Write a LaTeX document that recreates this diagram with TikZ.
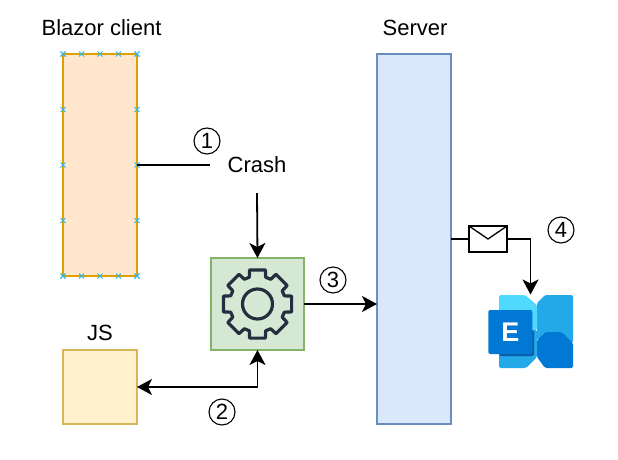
\documentclass[tikz,border=0pt]{standalone}
\usepackage{fontspec}
\setmainfont{Liberation Sans}
\usetikzlibrary{arrows.meta, positioning, calc}

\definecolor{blazorfill}{HTML}{FFE6CC}
\definecolor{blazorline}{HTML}{DFA000}
\definecolor{serverfill}{HTML}{DAE8FC}
\definecolor{serverline}{HTML}{6C8EBF}
\definecolor{gearfill}{HTML}{D5E8D4}
\definecolor{gearline}{HTML}{82B366}
\definecolor{jsfill}{HTML}{FFF2CC}
\definecolor{jsline}{HTML}{D6B656}
\definecolor{gearstroke}{HTML}{232F3E}
\definecolor{pinmark}{HTML}{29B6F2}

\begin{document}
\begin{tikzpicture}[
    x=1pt, y=-1pt,
    box/.style={rectangle, draw, line width=1.5pt, inner sep=0pt, outer sep=0pt},
    caption/.style={font=\fontsize{22}{26}\selectfont},
    step num/.style={circle, draw, line width=1.1pt, minimum size=26pt, inner sep=0pt, font=\fontsize{22}{24}\selectfont},
    tip/.tip={Stealth[length=15pt, width=16pt, inset=4pt]},
    arrow/.style={-tip, line width=1.8pt},
    wire/.style={line width=1.8pt},
    pin/.style={pinmark, line width=0.9pt}
]

    \useasboundingbox (0,0) rectangle (618,460);

    % Main Boxes
    \node[box, fill=blazorfill, draw=blazorline, minimum width=74pt, minimum height=222pt] (blazor) at (100,165) {};
    \node[box, fill=serverfill, draw=serverline, minimum width=74pt, minimum height=370pt] (server) at (414,239) {};
    \node[box, fill=gearfill, draw=gearline, minimum width=93pt, minimum height=92pt] (gearbox) at (257.5,304) {};
    \node[box, fill=jsfill, draw=jsline, minimum width=74pt, minimum height=74pt] (js) at (100,387) {};

    % Titles
    \node[caption] (blazortitle) at (101.5,28) {Blazor client};
    \node[caption] (servertitle) at (415,28) {Server};
    \node[caption] (jstitle) at (100,333) {JS};
    \node[caption, minimum width=94pt, minimum height=56pt, inner sep=0pt] (crash) at (257,165) {\raisebox{-2pt}{Crash}};

    % Connection points on the client box
    \foreach \t in {0,0.25,0.5,0.75,1} {
        \foreach \p/\q in {north west/north east, south west/south east, north west/south west, north east/south east} {
            \coordinate (pt) at ($(blazor.\p)!\t!(blazor.\q)$);
            \draw[pin] ($(pt)+(-2.5,-2.5)$) -- ($(pt)+(2.5,2.5)$);
            \draw[pin] ($(pt)+(-2.5,2.5)$) -- ($(pt)+(2.5,-2.5)$);
        }
    }

    % Gear icon
    \begin{scope}[shift={(gearbox.center)}, gearstroke, line width=3.2pt, line join=round]
        \draw (0,0) circle (15);
        \draw (90-13:35)
            \foreach \a in {90,135,180,225,270,315,360,405} {
                -- (\a-13:35) -- (\a+13:35) -- (\a+17:28) -- (\a+28:28)
            } -- cycle;
    \end{scope}

    % Mail envelope
    \node[box, fill=white, draw=black, minimum width=38pt, minimum height=26pt] (mail) at (488,239) {};
    \draw[line width=1.3pt] (mail.north west) -- ($(mail.north)+(0,13)$) -- (mail.north east);

    % Exchange logo
    \node[minimum width=85pt, minimum height=74pt, inner sep=0pt, outer sep=0pt] (exchange) at (530.5,331.5) {};
    \fill[rounded corners=1.5pt, fill={rgb,255:red,35;green,168;blue,232}]
        (545,295) -- (573,295) -- (573,343) -- (562,332) -- (545,332) -- (537,340) -- (537,303) -- cycle;
    \fill[rounded corners=1.5pt, fill={rgb,255:red,0;green,120;blue,212}]
        (545,332) -- (562,332) -- (573,343) -- (573,368) -- (545,368) -- (537,357) -- (537,340) -- cycle;
    \fill[rounded corners=1.5pt, fill={rgb,255:red,35;green,168;blue,232}]
        (499,330) -- (537,330) -- (537,357) -- (526,368) -- (499,368) -- cycle;
    \fill[rounded corners=1.5pt, fill={rgb,255:red,80;green,217;blue,255}]
        (499,295) -- (525,295) -- (537,305) -- (537,330) -- (499,330) -- cycle;
    \fill[rounded corners=2pt, fill={rgb,255:red,10;green,95;blue,168}] (499,330) rectangle (534,356);
    \node[rectangle, fill={rgb,255:red,0;green,120;blue,212}, rounded corners=2pt, minimum size=44pt, inner sep=0pt,
        text=white, font=\fontsize{27}{30}\selectfont\bfseries] (exchangeE) at (510.3,332) {E};

    % --- Connectors ---
    \draw[wire] (blazor.east) -- (crash.west);
    \draw[arrow] (crash.south) -- (gearbox.north);
    \draw[arrow] (gearbox.east) -- (gearbox.east -| server.west);
    \draw[arrow, tip-tip] (js.east) -| (gearbox.south);
    \draw[wire] (server.east) -- (mail.west);
    \draw[arrow] (mail.east) -| (exchange.north);

    % Step numbers
    \node[step num] (one) at (207,141) {1};
    \node[step num] (two) at (222,412) {2};
    \node[step num] (three) at (333,280) {3};
    \node[step num] (four) at (561,230) {4};

\end{tikzpicture}
\end{document}
